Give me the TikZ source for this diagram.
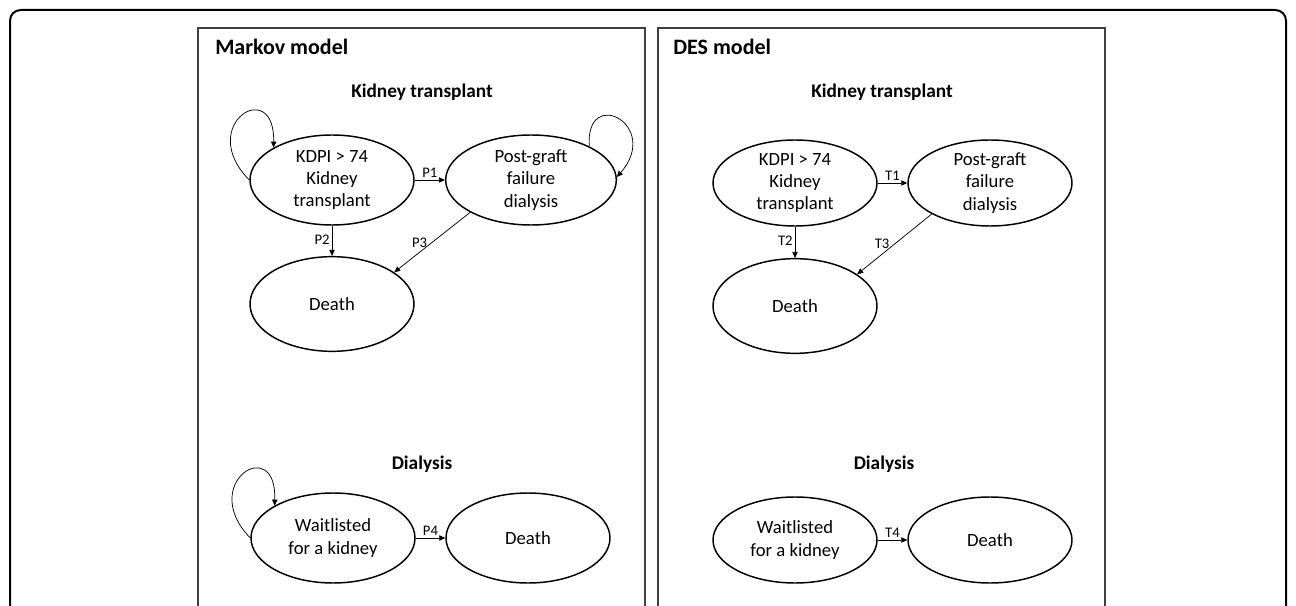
\documentclass[tikz,border=0pt]{standalone}
\usepackage{fontspec}
\setmainfont{Carlito}
\usetikzlibrary{shapes.geometric,arrows.meta}
\definecolor{panelgray}{HTML}{404040}
\tikzset{
  state/.style={ellipse, draw=black, line width=1.1pt, inner sep=0pt, align=center,
    font=\fontsize{14}{16.8}\selectfont},
  trans/.style={-{Triangle[length=4.5pt,width=4pt]}, line width=0.55pt},
  lab/.style={font=\fontsize{11}{13}\selectfont, inner sep=1.5pt},
  paneltitle/.style={font=\fontsize{16.5}{19}\selectfont\bfseries, anchor=west, inner sep=0pt},
  subtitle/.style={font=\fontsize{14.5}{17}\selectfont\bfseries, inner sep=0pt},
  panel/.style={draw=panelgray, line width=1.1pt},
}
\begin{document}
\begin{tikzpicture}[x=0.75pt,y=-0.75pt]
\useasboundingbox (0,0) rectangle (1296,606);
\clip (0,0) rectangle (1296,606);
% outer frame
\draw[line width=1.5pt, rounded corners=8pt] (10,620) -- (10,10) -- (1286,10) -- (1286,620);
% panels
\draw[panel] (198,620) -- (198,28) -- (645,28) -- (645,620);
\draw[panel] (658,620) -- (658,28) -- (1105,28) -- (1105,620);
\node[paneltitle] (tm) at (215,47) {Markov model};
\node[paneltitle] (td) at (673,47) {DES model};
\node[subtitle] (km) at (422,92) {Kidney transplant};
\node[subtitle] (kd) at (882,92) {Kidney transplant};
\node[subtitle] (dm) at (422,464) {Dialysis};
\node[subtitle] (dd) at (884,464) {Dialysis};

% Markov states
\node[state, minimum width=123pt, minimum height=67.5pt] (mk) at (332,180) {KDPI > 74\\Kidney\\transplant};
\node[state, minimum width=128pt, minimum height=67.5pt] (mp) at (531,180) {Post-graft\\failure\\dialysis};
\node[state, minimum width=123pt, minimum height=71pt] (md) at (332,304) {Death};
\node[state, minimum width=123pt, minimum height=67.5pt] (mw) at (333,538) {Waitlisted\\for a kidney};
\node[state, minimum width=123pt, minimum height=67.5pt] (mdd) at (528,538) {Death};

% DES states
\node[state, minimum width=123pt, minimum height=64.5pt] (dk) at (795,183) {KDPI > 74\\Kidney\\transplant};
\node[state, minimum width=123pt, minimum height=64.5pt] (dp) at (990,183) {Post-graft\\failure\\dialysis};
\node[state, minimum width=123pt, minimum height=71pt] (dd1) at (795,306) {Death};
\node[state, minimum width=123pt, minimum height=64.5pt] (dw) at (795,540) {Waitlisted\\for a kidney};
\node[state, minimum width=123pt, minimum height=64.5pt] (ddd) at (990,540) {Death};

% Markov transitions
\draw[trans] (mk.east) -- node[lab, above] {P1} (mp.west);
\draw[trans] (mk.south) -- node[lab, left, pos=0.45] {P2} (md.north);
\draw[trans] (mp.208) -- node[lab, left, pos=0.5, xshift=-2pt] {P3} (md.27);
\draw[trans] (mw.east) -- node[lab, above] {P4} (mdd.west);
% self loops
\draw[trans] (mk.west) .. controls (195,125) and (275,75) .. (mk.151);
\draw[trans] (mp.30) .. controls (585,85) and (662,125) .. (mp.2);
\draw[trans] (mw.west) .. controls (197,483) and (277,433) .. (mw.151);

% DES transitions
\draw[trans] (dk.east) -- node[lab, above] {T1} (dp.west);
\draw[trans] (dk.south) -- node[lab, left, pos=0.45] {T2} (dd1.north);
\draw[trans] (dp.208) -- node[lab, left, pos=0.5, xshift=-2pt] {T3} (dd1.27);
\draw[trans] (dw.east) -- node[lab, above] {T4} (ddd.west);
\end{tikzpicture}
\end{document}
